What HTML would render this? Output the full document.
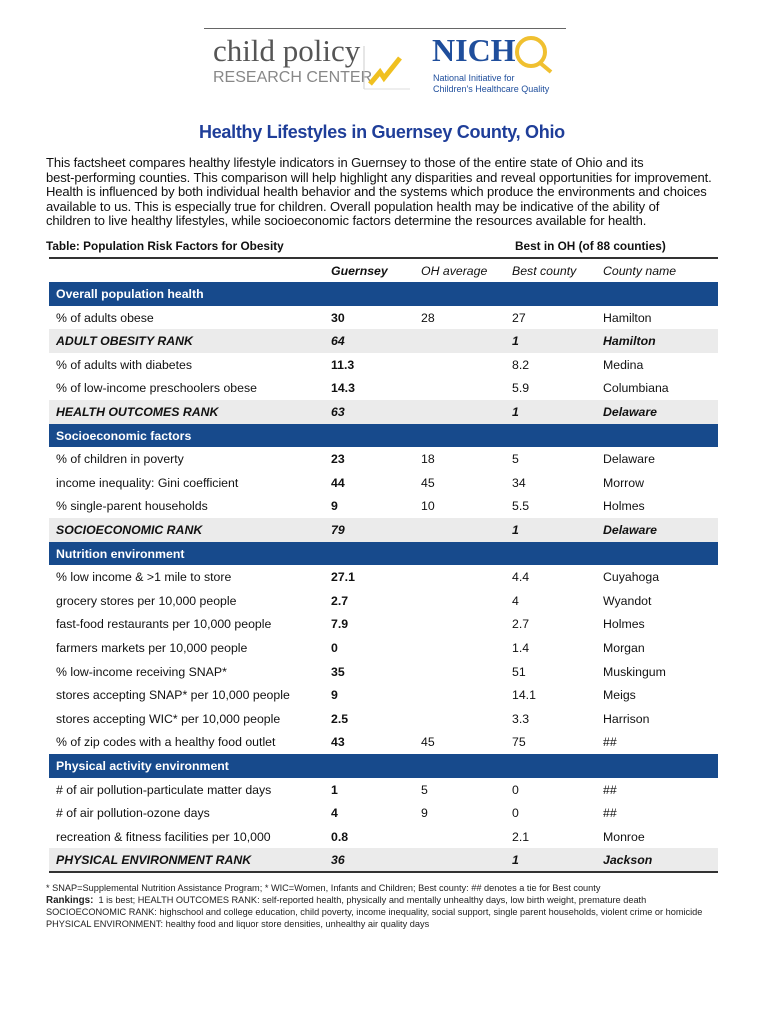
<!DOCTYPE html>
<html><head><meta charset="utf-8"><style>
body{margin:0;background:#fff;width:770px;height:1024px;position:relative;overflow:hidden;font-family:"Liberation Sans",Arial,sans-serif;}
.a{position:absolute;white-space:nowrap;}
.p{left:46px;font-size:13px;color:#111;letter-spacing:-0.1px}
.r{position:absolute;left:49px;width:669px;height:23.6px;font-size:12.3px;color:#111}
.r span{position:absolute;top:5px;white-space:nowrap}
.bar{background:#174a8c;color:#fff;font-weight:bold}
.rk{background:#ebebeb;font-weight:bold;font-style:italic}
.c0{left:7px}.c1{left:282px;font-weight:bold}.c2{left:372px}.c3{left:463px}.c4{left:554px}
.rk .c4{font-weight:bold}
.f{left:46px;font-size:9.2px;color:#222}
</style></head><body>
<div class="a" style="left:204px;top:28px;width:362px;height:1px;background:#666"></div>
<div class="a" style="left:213px;top:33px;font-family:'Liberation Serif',serif;font-size:31px;color:#555">child policy</div>
<div class="a" style="left:213px;top:69px;font-size:16px;color:#888;letter-spacing:0px">RESEARCH CENTER</div>
<svg class="a" style="left:362px;top:44px" width="50" height="50"><line x1="2" y1="2" x2="2" y2="45" stroke="#ccc"/><line x1="2" y1="45" x2="48" y2="45" stroke="#ddd"/><polyline points="8,40 18,28 22,34 38,14" fill="none" stroke="#f0c020" stroke-width="5"/></svg>
<div class="a" style="left:432px;top:32px;font-family:'Liberation Serif',serif;font-weight:bold;font-size:32px;color:#1f4e9c">NICH</div>
<svg class="a" style="left:513px;top:32px" width="45" height="45"><circle cx="18" cy="20" r="14" fill="none" stroke="#f0c030" stroke-width="4"/><line x1="26" y1="30" x2="38" y2="40" stroke="#f0c030" stroke-width="4"/></svg>
<div class="a" style="left:433px;top:73px;font-size:9px;color:#1f4e9c;line-height:11px">National Initiative for<br>Children's Healthcare Quality</div>
<div class="a" style="left:199px;top:122px;font-size:18px;font-weight:bold;color:#1f3e99;letter-spacing:-0.3px">Healthy Lifestyles in Guernsey County, Ohio</div>
<div class="a p" style="top:155px">This factsheet compares healthy lifestyle indicators in Guernsey to those of the entire state of Ohio and its</div>
<div class="a p" style="top:169.5px">best-performing counties. This comparison will help highlight any disparities and reveal opportunities for improvement.</div>
<div class="a p" style="top:184px">Health is influenced by both individual health behavior and the systems which produce the environments and choices</div>
<div class="a p" style="top:198.5px">available to us. This is especially true for children. Overall population health may be indicative of the ability of</div>
<div class="a p" style="top:213px">children to live healthy lifestyles, while socioeconomic factors determine the resources available for health.</div>
<div class="a" style="left:46px;top:239px;font-size:11.8px;font-weight:bold;color:#111">Table: Population Risk Factors for Obesity</div>
<div class="a" style="left:515px;top:239px;font-size:11.8px;font-weight:bold;color:#111">Best in OH (of 88 counties)</div>
<div class="a" style="left:49px;top:257px;width:669px;height:1.5px;background:#333"></div>
<div class="r" style="top:259px"><span class="c1" style="font-style:italic">Guernsey</span><span class="c2" style="font-style:italic">OH average</span><span class="c3" style="font-style:italic">Best county</span><span class="c4" style="font-style:italic">County name</span></div>
<div class="r bar" style="top:282px"><span class="c0">Overall population health</span></div>
<div class="r" style="top:305.6px"><span class="c0">% of adults obese</span><span class="c1">30</span><span class="c2">28</span><span class="c3">27</span><span class="c4">Hamilton</span></div>
<div class="r rk" style="top:329.2px"><span class="c0">ADULT OBESITY RANK</span><span class="c1">64</span><span class="c3">1</span><span class="c4">Hamilton</span></div>
<div class="r" style="top:352.8px"><span class="c0">% of adults with diabetes</span><span class="c1">11.3</span><span class="c3">8.2</span><span class="c4">Medina</span></div>
<div class="r" style="top:376.4px"><span class="c0">% of low-income preschoolers obese</span><span class="c1">14.3</span><span class="c3">5.9</span><span class="c4">Columbiana</span></div>
<div class="r rk" style="top:400px"><span class="c0">HEALTH OUTCOMES RANK</span><span class="c1">63</span><span class="c3">1</span><span class="c4">Delaware</span></div>
<div class="r bar" style="top:423.6px"><span class="c0">Socioeconomic factors</span></div>
<div class="r" style="top:447.2px"><span class="c0">% of children in poverty</span><span class="c1">23</span><span class="c2">18</span><span class="c3">5</span><span class="c4">Delaware</span></div>
<div class="r" style="top:470.8px"><span class="c0">income inequality: Gini coefficient</span><span class="c1">44</span><span class="c2">45</span><span class="c3">34</span><span class="c4">Morrow</span></div>
<div class="r" style="top:494.4px"><span class="c0">% single-parent households</span><span class="c1">9</span><span class="c2">10</span><span class="c3">5.5</span><span class="c4">Holmes</span></div>
<div class="r rk" style="top:518px"><span class="c0">SOCIOECONOMIC RANK</span><span class="c1">79</span><span class="c3">1</span><span class="c4">Delaware</span></div>
<div class="r bar" style="top:541.6px"><span class="c0">Nutrition environment</span></div>
<div class="r" style="top:565.2px"><span class="c0">% low income &amp; &gt;1 mile to store</span><span class="c1">27.1</span><span class="c3">4.4</span><span class="c4">Cuyahoga</span></div>
<div class="r" style="top:588.8px"><span class="c0">grocery stores per 10,000 people</span><span class="c1">2.7</span><span class="c3">4</span><span class="c4">Wyandot</span></div>
<div class="r" style="top:612.4px"><span class="c0">fast-food restaurants per 10,000 people</span><span class="c1">7.9</span><span class="c3">2.7</span><span class="c4">Holmes</span></div>
<div class="r" style="top:636px"><span class="c0">farmers markets per 10,000 people</span><span class="c1">0</span><span class="c3">1.4</span><span class="c4">Morgan</span></div>
<div class="r" style="top:659.6px"><span class="c0">% low-income receiving SNAP*</span><span class="c1">35</span><span class="c3">51</span><span class="c4">Muskingum</span></div>
<div class="r" style="top:683.2px"><span class="c0">stores accepting SNAP* per 10,000 people</span><span class="c1">9</span><span class="c3">14.1</span><span class="c4">Meigs</span></div>
<div class="r" style="top:706.8px"><span class="c0">stores accepting WIC* per 10,000 people</span><span class="c1">2.5</span><span class="c3">3.3</span><span class="c4">Harrison</span></div>
<div class="r" style="top:730.4px"><span class="c0">% of zip codes with a healthy food outlet</span><span class="c1">43</span><span class="c2">45</span><span class="c3">75</span><span class="c4">##</span></div>
<div class="r bar" style="top:754px"><span class="c0">Physical activity environment</span></div>
<div class="r" style="top:777.6px"><span class="c0"># of air pollution-particulate matter days</span><span class="c1">1</span><span class="c2">5</span><span class="c3">0</span><span class="c4">##</span></div>
<div class="r" style="top:801.2px"><span class="c0"># of air pollution-ozone days</span><span class="c1">4</span><span class="c2">9</span><span class="c3">0</span><span class="c4">##</span></div>
<div class="r" style="top:824.8px"><span class="c0">recreation &amp; fitness facilities per 10,000</span><span class="c1">0.8</span><span class="c3">2.1</span><span class="c4">Monroe</span></div>
<div class="r rk" style="top:848.4px"><span class="c0">PHYSICAL ENVIRONMENT RANK</span><span class="c1">36</span><span class="c3">1</span><span class="c4">Jackson</span></div>
<div class="a" style="left:49px;top:871px;width:669px;height:1.5px;background:#333"></div>
<div class="a f" style="top:883px">* SNAP=Supplemental Nutrition Assistance Program; * WIC=Women, Infants and Children; Best county: ## denotes a tie for Best county</div>
<div class="a f" style="top:895px"><b style="font-size:9.8px">Rankings:</b>&nbsp; 1 is best; HEALTH OUTCOMES RANK: self-reported health, physically and mentally unhealthy days, low birth weight, premature death</div>
<div class="a f" style="top:907px">SOCIOECONOMIC RANK: highschool and college education, child poverty, income inequality, social support, single parent households, violent crime or homicide</div>
<div class="a f" style="top:919px">PHYSICAL ENVIRONMENT: healthy food and liquor store densities, unhealthy air quality days</div>
</body></html>
